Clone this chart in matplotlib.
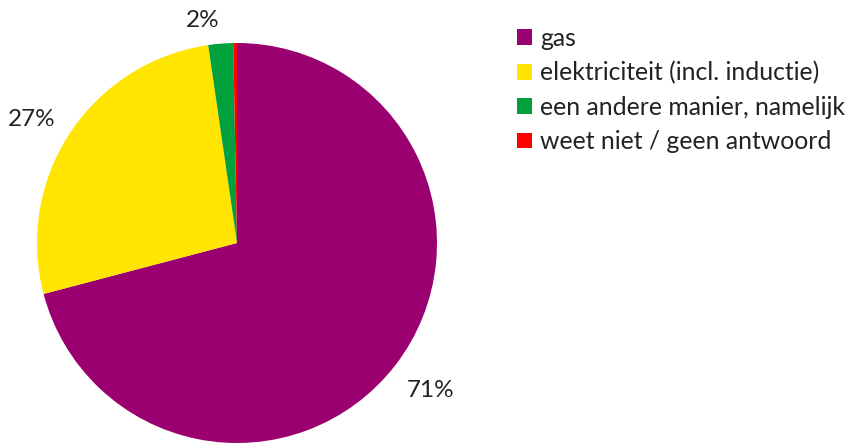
import matplotlib
matplotlib.use("Agg")
import matplotlib.pyplot as plt
import numpy as np
from matplotlib.patches import Patch

categories = ["gas", "elektriciteit (incl. inductie)", "een andere manier, namelijk", "weet niet / geen antwoord"]
values = [70.9, 26.8, 2.0, 0.3]
labels_pct = ["71%", "27%", "2%", ""]
colors = ["#9B0070", "#FFE500", "#00A03C", "#FF0000"]

plt.rcParams['font.family'] = ['Lato', 'DejaVu Sans']

W, H = 848, 443
fig = plt.figure(figsize=(W/100, H/100), dpi=100)
cx, cy, r = 237, 243, 200
ax = fig.add_axes([(cx - r)/W, (H - cy - r)/H, 2*r/W, 2*r/H])
wedges, _ = ax.pie(values, colors=colors, startangle=90, counterclock=False,
                   radius=1, wedgeprops=dict(linewidth=0))
ax.set_xlim(-1, 1)
ax.set_ylim(-1, 1)
ax.set_aspect('equal')
ax.axis('off')

# label placement: (distance from centre, angular shift from wedge middle)
place = [(1.22, 0.3), (1.195, 2.5), (1.123, 4.0), (1.1, 0.0)]
for w, lab, (d, da) in zip(wedges, labels_pct, place):
    if not lab:
        continue
    ang = np.deg2rad((w.theta1 + w.theta2) / 2 + da)
    ax.text(d*np.cos(ang), d*np.sin(ang), lab, ha='center', va='center',
            fontsize=17.5, color='#222222', clip_on=False)

handles = [Patch(facecolor=c, edgecolor='none') for c in colors]
leg = fig.legend(handles, categories, loc='upper left',
                 bbox_to_anchor=(507/W, 1 - 17/H), frameon=False,
                 fontsize=17.8, handlelength=0.6, handleheight=0.6,
                 handletextpad=0.35, labelspacing=0.46, borderaxespad=0)
for t in leg.get_texts():
    t.set_color('#222222')

fig.savefig("out.png", dpi=100)
